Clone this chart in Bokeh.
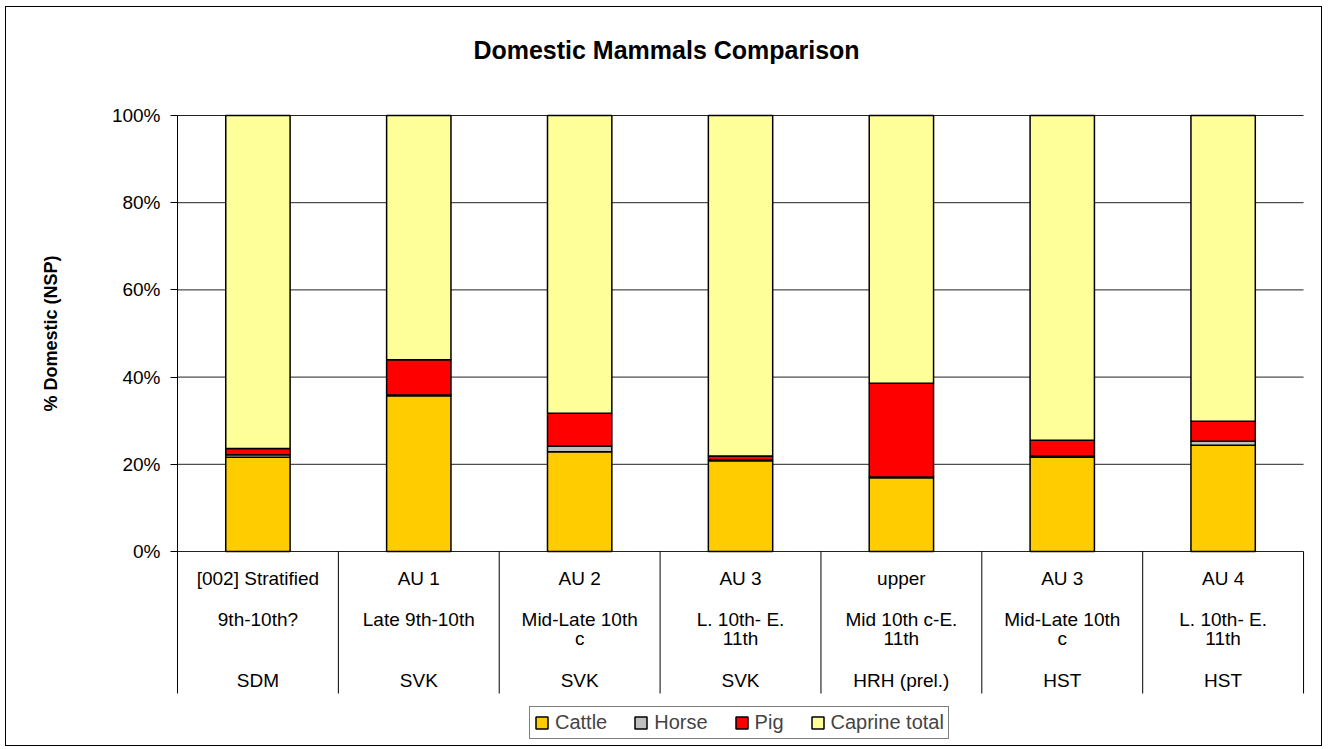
from bokeh.plotting import figure
from bokeh.models import (ColumnDataSource, Range1d, FixedTicker, Legend, LegendItem,
                          Label, LinearAxis)
from bokeh.core.properties import value
from bokeh.embed import file_html
from bokeh.resources import INLINE

# ---- data (percent of domestic NSP) ----
title_text = "Domestic Mammals Comparison"
y_label = "% Domestic (NSP)"
level1 = ["[002] Stratified", "AU 1", "AU 2", "AU 3", "upper", "AU 3", "AU 4"]
level2 = ["9th-10th?", "Late 9th-10th", "Mid-Late 10th\nc", "L. 10th- E.\n11th",
          "Mid 10th c-E.\n11th", "Mid-Late 10th\nc", "L. 10th- E.\n11th"]
level3 = ["SDM", "SVK", "SVK", "SVK", "HRH (prel.)", "HST", "HST"]

cattle = [21.6, 35.7, 22.9, 20.8, 16.9, 21.6, 24.4]
horse = [0.6, 0.2, 1.3, 0.2, 0.2, 0.3, 0.9]
pig = [1.4, 8.1, 7.5, 0.9, 21.5, 3.6, 4.6]
caprine = [76.4, 56.0, 68.3, 78.1, 61.4, 74.5, 70.1]

series = ["Cattle", "Horse", "Pig", "Caprine total"]
colors = ["#FFCC00", "#C0C0C0", "#FF0000", "#FFFF99"]

y_ticks = [0, 20, 40, 60, 80, 100]
y_tick_labels = ["0%", "20%", "40%", "60%", "80%", "100%"]

FONT = "Liberation Sans"
n = len(level1)
xs = [i + 0.5 for i in range(n)]

src = ColumnDataSource(dict(x=xs, Cattle=cattle, Horse=horse, Pig=pig,
                            **{"Caprine total": caprine},
                            l1=level1, l2=level2, l3=level3))

# layout of the plotting frame (whole canvas); value area is 0..n by 0..100
W, H = 1317, 740
X_RANGE = (-1.063, 7.124)
Y_RANGE = (-44.95, 124.77)
TABLE_BOTTOM = -32.57

p = figure(width=W, height=H, output_backend="svg", toolbar_location=None,
           title=None, x_axis_location=None, y_axis_location=None,
           x_range=Range1d(*X_RANGE), y_range=Range1d(*Y_RANGE),
           min_border_left=0, min_border_right=0, min_border_top=0,
           min_border_bottom=0)
p.styles = {"border": "1px solid #000000", "margin-left": "5px", "margin-top": "6px"}
p.background_fill_color = "white"
p.border_fill_color = "white"
p.outline_line_color = None
p.xgrid.visible = False
p.ygrid.visible = False

# horizontal gridlines at the value ticks, spanning the category area
p.segment(x0=[0] * len(y_ticks), y0=y_ticks, x1=[n] * len(y_ticks), y1=y_ticks,
          line_color="#222222", line_width=1)

renderers = p.vbar_stack(series, x="x", width=0.4, source=src, color=colors,
                         line_color="black", line_width=1.5)

# category table below the zero line
bounds = list(range(n + 1))
p.segment(x0=bounds, y0=[0] * (n + 1), x1=bounds, y1=[TABLE_BOTTOM] * (n + 1),
          line_color="black", line_width=1)
p.text(x="x", y=0, text="l1", source=src, y_offset=27, text_align="center",
       text_baseline="middle", text_font=value(FONT), text_font_size="19px",
       text_color="black")
p.text(x="x", y=0, text="l2", source=src, y_offset=57, text_align="center",
       text_baseline="top", text_font=value(FONT), text_font_size="19px",
       text_line_height=0.95, text_color="black")
p.text(x="x", y=0, text="l3", source=src, y_offset=129, text_align="center",
       text_baseline="middle", text_font=value(FONT), text_font_size="19px",
       text_color="black")

# value axis fixed at the left edge of the category area
yax = LinearAxis(fixed_location=0, bounds=(0, 100))
yax.ticker = FixedTicker(ticks=y_ticks)
yax.major_label_overrides = {t: l for t, l in zip(y_ticks, y_tick_labels)}
yax.major_label_text_font = FONT
yax.major_label_text_font_size = "19px"
yax.major_label_text_color = "black"
yax.major_tick_out = 7
yax.major_tick_in = 0
yax.minor_tick_out = 0
yax.minor_tick_in = 0
yax.major_label_standoff = 10
yax.axis_line_color = "black"
yax.major_tick_line_color = "black"
yax.axis_label = y_label
yax.axis_label_text_font = FONT
yax.axis_label_text_font_size = "18px"
yax.axis_label_text_font_style = "bold"
yax.axis_label_text_color = "black"
yax.axis_label_standoff = 48
p.add_layout(yax, "left")

# chart title
p.add_layout(Label(x=660, y=698, x_units="screen", y_units="screen",
                   text=title_text, text_align="center", text_baseline="middle",
                   text_font=FONT, text_font_size="25px", text_font_style="bold",
                   text_color="black"))

legend = Legend(items=[LegendItem(label=s, renderers=[r]) for s, r in zip(series, renderers)],
                orientation="horizontal", location=(523, 8),
                border_line_color="black", border_line_width=1,
                label_text_font=FONT, label_text_font_size="20px",
                glyph_width=15, glyph_height=15, label_standoff=6, spacing=26,
                padding=4, margin=0, label_height=20)
p.add_layout(legend)

open("out.html", "w").write(file_html(p, INLINE))
